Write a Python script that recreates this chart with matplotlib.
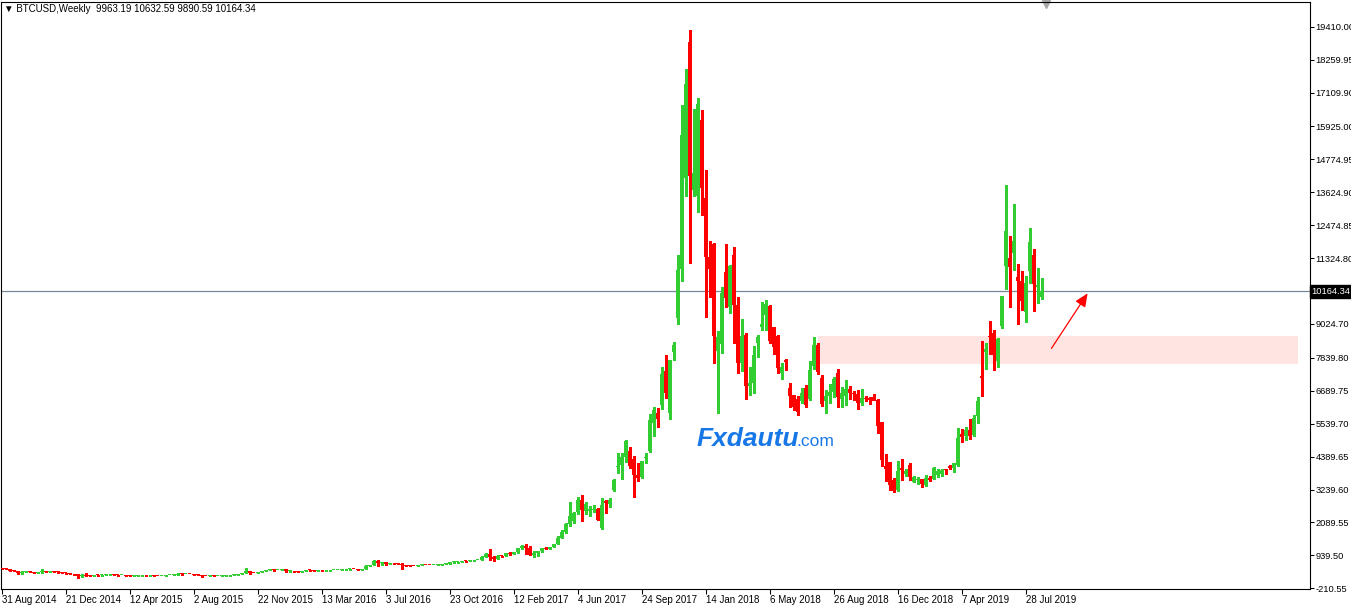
# BTCUSD weekly candles (MT4 style), Aug 2014 - Aug 2019
import matplotlib
matplotlib.use('Agg')
import matplotlib.pyplot as plt
import matplotlib.transforms as mtransforms
from matplotlib.patches import Rectangle
import numpy as np


# Weekly OHLC, one value per week starting 31 Aug 2014
opens = [485, 478, 476, 410, 385, 322, 375, 390, 358, 335, 350, 390, 368, 375, 372, 350, 328, 320, 288, 272,
         208, 262, 228, 226, 250, 244, 255, 276, 285, 262, 248, 255, 236, 224, 226, 240, 241, 237, 239, 230,
         225, 233, 245, 250, 268, 305, 278, 290, 282, 265, 262, 232, 230, 240, 230, 232, 235, 238, 245, 268,
         285, 325, 385, 330, 325, 368, 390, 435, 460, 420, 430, 448, 385, 392, 378, 372, 400, 438, 430, 410,
         414, 412, 416, 420, 420, 428, 450, 455, 460, 455, 445, 475, 578, 590, 760, 670, 700, 650, 665, 660,
         655, 590, 585, 580, 575, 605, 610, 608, 600, 610, 618, 640, 655, 700, 705, 705, 740, 735, 765, 775,
         790, 900, 1000, 880, 820, 925, 915, 1020, 1000, 1050, 1180, 1270, 1180, 970, 1040, 1080, 1180, 1170, 1235, 1340,
         1560, 1760, 2020, 2150, 2450, 2880, 2500, 2480, 2520, 2570, 1900, 2840, 2720, 3240, 4030, 4090, 4360, 4580, 4290, 3740,
         3680, 4340, 4590, 5550, 5920, 6190, 7380, 5920, 8030, 9240, 10940, 14120, 18860, 13690, 13510, 16160, 13420, 11350, 11820, 8090,
         8320, 10850, 9610, 11440, 9690, 7670, 8640, 6850, 6950, 8350, 8930, 9340, 9650, 8910, 8600, 7320, 7760, 6790, 6540, 6390,
         6340, 6800, 6420, 7550, 8290, 7120, 6340, 6520, 6660, 7300, 6420, 6520, 6740, 6600, 6590, 6250, 6450, 6450, 6470, 6370,
         5590, 4060, 4200, 3570, 3220, 4000, 3770, 4090, 3510, 3580, 3600, 3390, 3660, 3620, 3740, 3780, 3950, 4070, 3990, 4090,
         5170, 5110, 5310, 5160, 5810, 7200, 8050, 8590, 8700, 7740, 8950, 11050, 11320, 11520, 10660, 10530, 9450, 10890, 11440, 10330,
         9963.19]
highs = [492, 485, 480, 445, 392, 410, 410, 395, 365, 362, 455, 400, 385, 385, 378, 355, 340, 325, 300, 285,
         300, 315, 245, 265, 265, 260, 290, 300, 292, 270, 265, 262, 240, 238, 245, 245, 246, 242, 241, 233,
         235, 252, 253, 272, 315, 318, 295, 298, 285, 272, 265, 235, 245, 245, 236, 238, 240, 248, 275, 290,
         335, 500, 390, 340, 372, 395, 440, 470, 465, 440, 460, 455, 420, 400, 385, 405, 445, 440, 440, 420,
         418, 420, 422, 424, 432, 455, 468, 465, 465, 458, 478, 590, 600, 775, 765, 705, 705, 680, 685, 665,
         660, 600, 590, 585, 610, 630, 612, 612, 615, 622, 642, 660, 720, 740, 720, 755, 750, 770, 780, 795,
         935, 1030, 1155, 920, 960, 935, 1040, 1070, 1060, 1210, 1300, 1330, 1250, 1090, 1100, 1200, 1220, 1245, 1350, 1620,
         1840, 2080, 2800, 2450, 2990, 3040, 2800, 2660, 2700, 2610, 2950, 2870, 2960, 3600, 4500, 4500, 4970, 4730, 4400, 4150,
         4230, 4500, 5880, 6130, 6080, 7530, 7940, 7760, 8400, 11440, 16680, 17930, 19310, 16530, 16920, 16500, 14410, 11940, 11870, 8790,
         10330, 11820, 11090, 11730, 9950, 9200, 8700, 7530, 8260, 8640, 9800, 9860, 9690, 8930, 8640, 7650, 7790, 6950, 6560, 6500,
         6770, 6890, 7740, 8560, 8350, 7240, 6710, 6920, 7180, 7450, 6810, 7060, 6860, 6690, 6720, 6740, 6520, 6470, 6590, 6400,
         5600, 4480, 4200, 3630, 4230, 4320, 3950, 4170, 3710, 3680, 3620, 3740, 3730, 4040, 3950, 3960, 3970, 4110, 4150, 5400,
         5360, 5430, 5690, 5840, 6460, 8430, 8360, 9130, 8810, 8520, 10000, 13880, 12100, 13220, 11120, 10860, 10700, 12370, 11640, 10970,
         10632.59]
lows = [470, 455, 395, 380, 300, 275, 360, 345, 320, 318, 340, 345, 355, 360, 340, 310, 305, 280, 265, 165,
        200, 220, 210, 220, 232, 235, 250, 270, 255, 235, 240, 230, 215, 218, 218, 232, 234, 230, 225, 222,
        221, 230, 240, 248, 265, 270, 272, 275, 260, 255, 195, 210, 225, 225, 225, 228, 232, 236, 243, 265,
        283, 320, 305, 315, 320, 355, 385, 430, 410, 415, 425, 360, 365, 375, 365, 370, 398, 405, 400, 405,
        405, 408, 410, 415, 418, 426, 440, 440, 448, 440, 440, 470, 565, 588, 580, 615, 620, 645, 650, 645,
        480, 570, 565, 565, 570, 600, 600, 590, 595, 605, 615, 630, 650, 680, 690, 695, 725, 730, 755, 770,
        780, 885, 790, 760, 815, 880, 910, 940, 990, 1040, 1160, 1000, 960, 890, 935, 1060, 1150, 1160, 1230, 1330,
        1530, 1720, 1950, 2080, 2400, 2140, 2380, 2310, 2460, 2160, 1850, 2430, 2640, 3180, 3820, 3620, 4210, 4000, 2980, 3540,
        3660, 4170, 4560, 5110, 5420, 6070, 6450, 5690, 7780, 9020, 10540, 13500, 11170, 13500, 12920, 12840, 9260, 9950, 7650, 5920,
        8020, 9600, 9400, 8370, 7320, 7380, 6420, 6540, 6620, 7860, 8830, 8810, 8350, 7990, 7300, 7090, 7410, 6130, 6010, 5830,
        6270, 6130, 6360, 7440, 7270, 6160, 5900, 6250, 6480, 6130, 6130, 6190, 6390, 6380, 6070, 6180, 6330, 6220, 6360, 5200,
        4050, 3540, 3220, 3160, 3180, 3590, 3710, 3570, 3490, 3450, 3330, 3370, 3540, 3600, 3680, 3700, 3780, 3940, 3850, 4050,
        4910, 4970, 5000, 5100, 5580, 6520, 7450, 7970, 7410, 7530, 8870, 10250, 9630, 10910, 9020, 9510, 9100, 10450, 9490, 9770,
        9890.59]
closes = [478, 476, 410, 385, 322, 375, 390, 358, 335, 350, 390, 368, 375, 372, 350, 328, 320, 288, 272, 208,
          262, 228, 226, 250, 244, 255, 276, 285, 262, 248, 255, 236, 224, 226, 240, 241, 237, 239, 230, 225,
          233, 245, 250, 268, 305, 278, 290, 282, 265, 262, 232, 230, 240, 230, 232, 235, 238, 245, 268, 285,
          325, 385, 330, 325, 368, 390, 435, 460, 420, 430, 448, 385, 392, 378, 372, 400, 438, 430, 410, 414,
          412, 416, 420, 420, 428, 450, 455, 460, 455, 445, 475, 578, 590, 760, 670, 700, 650, 665, 660, 655,
          590, 585, 580, 575, 605, 610, 608, 600, 610, 618, 640, 655, 700, 705, 705, 740, 735, 765, 775, 790,
          900, 1000, 880, 820, 925, 915, 1020, 1000, 1050, 1180, 1270, 1180, 970, 1040, 1080, 1180, 1170, 1235, 1340, 1560,
          1760, 2020, 2300, 2420, 2870, 2520, 2740, 2560, 2560, 2190, 2700, 2770, 2870, 3590, 4060, 4380, 4930, 4060, 3740, 3660,
          4230, 4380, 5660, 6010, 5720, 7270, 6620, 7760, 8290, 10910, 15630, 17420, 14200, 14290, 16720, 13770, 11350, 10940, 8600, 8580,
          10120, 9920, 11050, 9690, 7670, 8600, 6850, 6970, 7940, 8580, 9020, 9720, 8440, 8230, 7470, 7510, 7680, 6510, 6130, 5960,
          6620, 6210, 7410, 8290, 7360, 6230, 6510, 6660, 7100, 6480, 6600, 6740, 6600, 6570, 6250, 6430, 6410, 6360, 6340, 5460,
          4270, 3950, 3390, 3190, 3880, 3920, 3880, 3680, 3680, 3590, 3450, 3650, 3590, 4000, 3890, 3910, 3920, 4000, 4150, 5050,
          5080, 5310, 5100, 5750, 6330, 7150, 8150, 8560, 7940, 8500, 10000, 12270, 11030, 11930, 10540, 9840, 10450, 11880, 10430, 10390,
          10164.34]

date_labels = ['31 Aug 2014', '21 Dec 2014', '12 Apr 2015', '2 Aug 2015', '22 Nov 2015', '13 Mar 2016',
               '3 Jul 2016', '23 Oct 2016', '12 Feb 2017', '4 Jun 2017', '24 Sep 2017', '14 Jan 2018',
               '6 May 2018', '26 Aug 2018', '16 Dec 2018', '7 Apr 2019', '28 Jul 2019']
price_ticks = [19410.00, 18259.95, 17109.90, 15925.00, 14774.95, 13624.90, 12474.85, 11324.80,
               9024.70, 7839.80, 6689.75, 5539.70, 4389.65, 3239.60, 2089.55, 939.50, -210.55]
last_price = 10164.34
zone = (204, 324, 7636, 8604)   # week from, week to, price low, price high
arrow_from = (262, 8090)
arrow_to = (271.8, 10176)

plt.rcParams['font.family'] = ['Liberation Sans', 'DejaVu Sans']

fig = plt.figure(figsize=(13.51, 6.07), dpi=100)
ax = fig.add_axes([0.5 / 1351, 18.5 / 607, 1309 / 1351, 587 / 607])

o = np.array(opens)
h = np.array(highs)
l = np.array(lows)
c = np.array(closes)
idx = np.arange(len(c))
colors = np.where(c >= o, '#32CD32', '#FF0000')

# support zone and current price line behind the candles
ax.add_patch(Rectangle((zone[0], zone[2]), zone[1] - zone[0], zone[3] - zone[2],
                       facecolor='#FFE4E1', edgecolor='none', zorder=0))
ax.axhline(last_price, color='#778899', lw=0.9, zorder=1)

ax.vlines(idx, l, h, colors=colors, linewidth=0.75, antialiased=False, zorder=2)
body_lo = np.minimum(o, c)
body_h = np.maximum(np.abs(c - o), 30)
ax.bar(idx, body_h, bottom=body_lo, width=0.75, color=colors, linewidth=0,
       antialiased=False, zorder=3)

ax.annotate('', xy=arrow_to, xytext=arrow_from,
            arrowprops=dict(arrowstyle='-|>,head_length=0.5,head_width=0.22',
                            color='#FF0000', lw=0.9, mutation_scale=16))

ax.set_xlim(-0.375, 326.9)
ax.set_ylim(-217.5, 20290)

# axes: price on the right, dates at the bottom
ax.yaxis.tick_right()
ax.set_yticks(price_ticks)
ax.set_yticklabels([f'{v:.2f}' for v in price_ticks])
ax.set_xticks(np.arange(0, 16 * len(date_labels), 16))
ax.set_xticklabels(date_labels, ha='left')
ax.tick_params(axis='y', direction='out', length=3, width=0.75, pad=1.5, labelsize=6.7)
ax.tick_params(axis='x', direction='out', length=3.5, width=0.75, pad=1, labelsize=7)
for s in ax.spines.values():
    s.set_color('black')
    s.set_linewidth(0.8)

# current price tag on the price scale
tag = mtransforms.blended_transform_factory(ax.transAxes, ax.transData)
ax.text(1.0015, last_price, f'{last_price:.2f}', transform=tag, color='white', fontsize=6.7,
        va='center', ha='left', clip_on=False,
        bbox=dict(boxstyle='square,pad=0.2', fc='black', ec='black'))

# chart shift marker at the top
top = mtransforms.blended_transform_factory(ax.transData, ax.transAxes)
ax.plot([261], [0.996], marker='v', ms=6, color='#A8A8A8', transform=top, clip_on=False)

fig.text(4 / 1351, 1 - 9 / 607, '\u25bc BTCUSD,Weekly  9963.19 10632.59 9890.59 10164.34',
         fontsize=7, va='center', ha='left')

# watermark
fig.text(697 / 1351, 1 - 446 / 607, 'Fxdautu', fontsize=19, fontweight='bold', style='italic',
         color='#1877E6', va='baseline', ha='left')
fig.text(796 / 1351, 1 - 446 / 607, '.com', fontsize=12.5, color='#1877E6', va='baseline', ha='left')

plt.savefig('out.png', dpi=100)
